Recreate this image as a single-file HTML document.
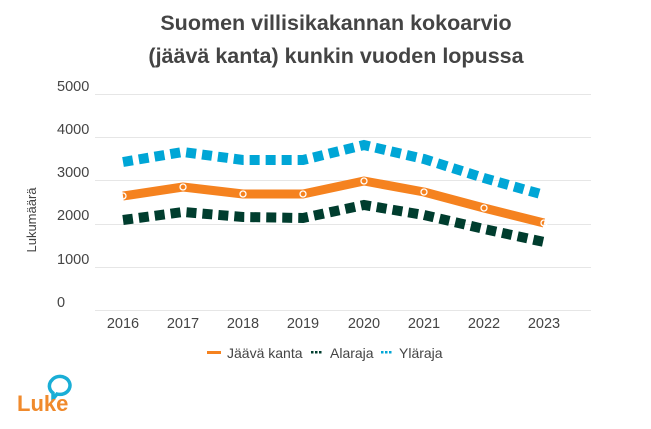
<!DOCTYPE html>
<html><head><meta charset="utf-8"><style>
body{margin:0;background:#fff;width:651px;height:424px;overflow:hidden;font-family:"Liberation Sans",sans-serif}
</style></head><body>
<svg width="651" height="424" xmlns="http://www.w3.org/2000/svg" font-family="Liberation Sans, sans-serif">
<text x="336" y="30" text-anchor="middle" font-size="21.5" font-weight="bold" fill="#444">Suomen villisikakannan kokoarvio</text>
<text x="336" y="63" text-anchor="middle" font-size="21.5" font-weight="bold" fill="#444">(jäävä kanta) kunkin vuoden lopussa</text>
<g stroke="#e6e6e6" stroke-width="1">
<line x1="95" x2="591" y1="94.5" y2="94.5"/><line x1="95" x2="591" y1="137.5" y2="137.5"/>
<line x1="95" x2="591" y1="180.5" y2="180.5"/><line x1="95" x2="591" y1="224.5" y2="224.5"/>
<line x1="95" x2="591" y1="267.5" y2="267.5"/><line x1="95" x2="591" y1="310.5" y2="310.5"/>
</g>
<g font-size="14.5" fill="#444">
<text x="57" y="91">5000</text><text x="57" y="134">4000</text><text x="57" y="177">3000</text>
<text x="57" y="220">2000</text><text x="57" y="264">1000</text><text x="57" y="307">0</text>
</g>
<text transform="translate(36,220) rotate(-90)" text-anchor="middle" font-size="13" fill="#444">Lukumäärä</text>
<g font-size="14.5" fill="#444" text-anchor="middle">
<text x="123" y="328">2016</text><text x="183" y="328">2017</text><text x="243" y="328">2018</text><text x="303" y="328">2019</text>
<text x="364" y="328">2020</text><text x="424" y="328">2021</text><text x="484" y="328">2022</text><text x="544" y="328">2023</text>
</g>
<polyline fill="none" stroke="#00a6d6" stroke-width="10" stroke-dasharray="10 6" points="123,162 183,152 243,160 303,160 364,145 424,159 484,178 544,195"/>
<polyline fill="none" stroke="#003d2e" stroke-width="10" stroke-dasharray="10 6" points="123,220 183,212 243,217 303,218 364,205 424,215 484,229 544,242"/>
<polyline fill="none" stroke="#f5821f" stroke-width="9" stroke-linejoin="round" points="123,196 183,187 243,194 303,194 364,181 424,192 484,208 544,223"/>
<g fill="none" stroke="#fff" stroke-width="1.3">
<circle cx="123" cy="196" r="3"/><circle cx="183" cy="187" r="3"/><circle cx="243" cy="194" r="3"/><circle cx="303" cy="194" r="3"/>
<circle cx="364" cy="181" r="3"/><circle cx="424" cy="192" r="3"/><circle cx="484" cy="208" r="3"/><circle cx="544" cy="223" r="3"/>
</g>
<rect x="207" y="351" width="14" height="3" fill="#f5821f"/>
<text x="227" y="358" font-size="14" fill="#444">Jäävä kanta</text>
<g fill="#003d2e"><rect x="311" y="351" width="2.5" height="2.5"/><rect x="315" y="351" width="2.5" height="2.5"/><rect x="319" y="351" width="2.5" height="2.5"/></g>
<text x="330" y="358" font-size="14" fill="#444">Alaraja</text>
<g fill="#00a6d6"><rect x="381" y="351" width="2.5" height="2.5"/><rect x="385" y="351" width="2.5" height="2.5"/><rect x="389" y="351" width="2.5" height="2.5"/></g>
<text x="399" y="358" font-size="14" fill="#444">Yläraja</text>
<path d="M52,380 a10,9 0 1,1 5,14 l-4,5 l0,-6 a10,9 0 0,1 -1,-13z" fill="none" stroke="#1aaed6" stroke-width="3.5"/>
<text x="17" y="411" font-size="22" font-weight="bold" fill="#f08a2c">Luke</text>
</svg>
</body></html>
